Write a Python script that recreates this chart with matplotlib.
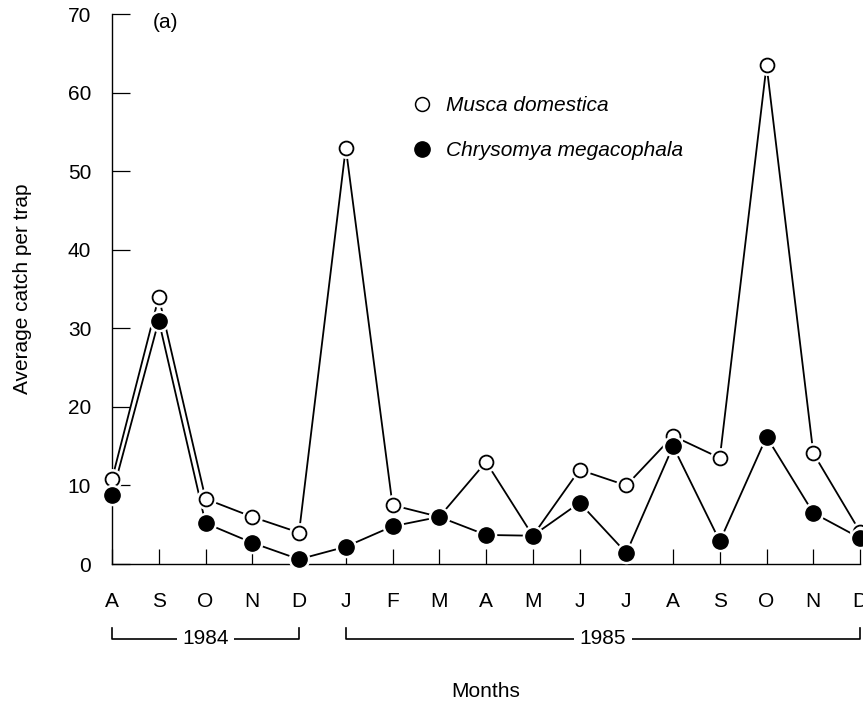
import matplotlib
matplotlib.use("Agg")
import matplotlib.pyplot as plt
from matplotlib.lines import Line2D
from matplotlib.transforms import blended_transform_factory

# Months Aug 1984 -> Dec 1985
months = ["A", "S", "O", "N", "D", "J", "F", "M", "A", "M", "J", "J", "A", "S", "O", "N", "D"]
musca = [10.8, 34.0, 8.3, 6.0, 4.0, 53.0, 7.5, 6.0, 13.0, 3.6, 12.0, 10.0, 16.3, 13.5, 63.5, 14.1, 4.1]
chrysomya = [8.8, 31.0, 5.2, 2.7, 0.6, 2.2, 4.8, 6.0, 3.7, 3.6, 7.8, 1.4, 15.0, 2.9, 16.2, 6.5, 3.3]
year_labels = ["1984", "1985"]
year_spans = [(0, 4), (5, 16)]  # month index ranges

plt.rcParams["font.family"] = ["Liberation Sans", "DejaVu Sans"]
FS = 15

fig = plt.figure(figsize=(8.63, 7.09), dpi=100)
ax = fig.add_axes([0.1298, 0.2045, 0.8668, 0.7755])

x = list(range(len(months)))
lw = 1.3
ax.plot(x, musca, color="black", lw=lw, zorder=2, clip_on=False)
ax.plot(x, chrysomya, color="black", lw=lw, zorder=2, clip_on=False)
# white halo so lines stop short of the markers
ax.plot(x, musca, ls="none", marker="o", ms=14, mfc="white", mec="white", zorder=3, clip_on=False)
ax.plot(x, musca, ls="none", marker="o", ms=10, mfc="white", mec="black", mew=1.3, zorder=4, clip_on=False)
ax.plot(x, chrysomya, ls="none", marker="o", ms=14.5, mfc="white", mec="white", zorder=5, clip_on=False)
ax.plot(x, chrysomya, ls="none", marker="o", ms=11, mfc="black", mec="black", zorder=6, clip_on=False)

ax.set_xlim(0, 16)
ax.set_ylim(0, 70)
ax.set_xticks(x)
ax.set_xticklabels(months)
ax.set_yticks(range(0, 71, 10))

for s in ["top", "right"]:
    ax.spines[s].set_visible(False)
for s in ["left", "bottom"]:
    ax.spines[s].set_linewidth(1.0)

ax.tick_params(axis="x", direction="in", length=11, width=0.9, pad=20.5, labelsize=FS)
ax.tick_params(axis="y", direction="in", length=13, width=0.9, pad=15, labelsize=FS)

ax.set_xlabel("Months", fontsize=FS, labelpad=51)
ax.set_ylabel("Average catch per trap", fontsize=FS, labelpad=26)

ax.text(0.054, 0.985, "(a)", transform=ax.transAxes, fontsize=FS, va="center", ha="left")

# year brackets below month labels
trans = blended_transform_factory(ax.transData, ax.transAxes)
y_line = -0.136
y_tip = -0.116
for label, (i0, i1) in zip(year_labels, year_spans):
    ax.plot([i0, i0, i1, i1], [y_tip, y_line, y_line, y_tip], color="black", lw=1.2,
            transform=trans, clip_on=False)
    ax.text((i0 + i1) / 2, y_line, label, transform=trans, fontsize=FS, ha="center", va="center",
            bbox=dict(facecolor="white", edgecolor="none", pad=4))

handles = [
    Line2D([], [], ls="none", marker="o", ms=10, mfc="white", mec="black", mew=1.1),
    Line2D([], [], ls="none", marker="o", ms=11, mfc="black", mec="black"),
]
leg = ax.legend(handles, ["Musca domestica", "Chrysomya megacophala"], loc="upper left",
                bbox_to_anchor=(0.374, 0.885), frameon=False,
                prop={"style": "italic", "size": FS}, labelspacing=1.25,
                handletextpad=0.6, handlelength=1.1)

fig.savefig("out.png", dpi=100)
